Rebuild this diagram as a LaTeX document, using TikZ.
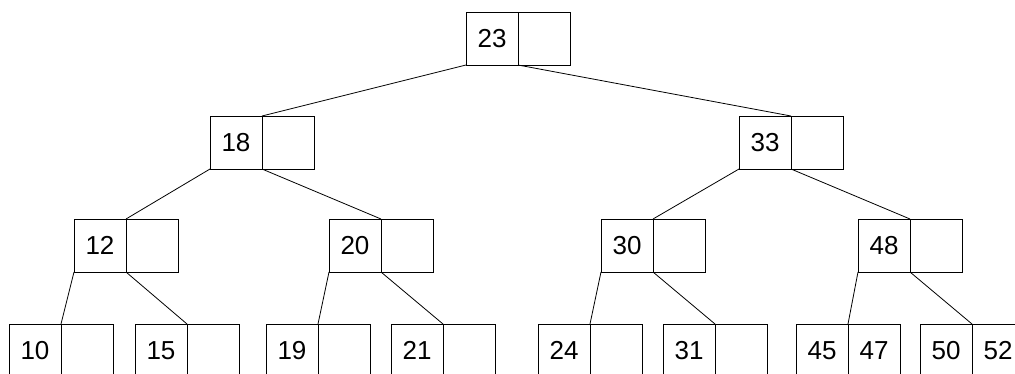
\documentclass[tikz,border=0pt]{standalone}
\usepackage{fontspec}
\setmainfont{Liberation Sans}
\begin{document}
\begin{tikzpicture}[x=1pt,y=-1pt,
  cell/.style={draw,line width=0.9pt,minimum width=52pt,minimum height=53pt,
    inner sep=0pt,outer sep=0pt,anchor=north west,font=\fontsize{26}{30}\selectfont},
  link/.style={line width=0.8pt}]
  \useasboundingbox (0,0) rectangle (1015,373);
  % Root
  \node[cell] (n23) at (466,12) {23};
  \node[cell] (n23p) at (n23.north east) {};
  % Second level
  \node[cell] (n18) at (210,116) {18};
  \node[cell] (n18p) at (n18.north east) {};
  \node[cell] (n33) at (739,116) {33};
  \node[cell] (n33p) at (n33.north east) {};
  % Third level
  \node[cell] (n12) at (74,219) {12};
  \node[cell] (n12p) at (n12.north east) {};
  \node[cell] (n20) at (329,219) {20};
  \node[cell] (n20p) at (n20.north east) {};
  \node[cell] (n30) at (601,219) {30};
  \node[cell] (n30p) at (n30.north east) {};
  \node[cell] (n48) at (858,219) {48};
  \node[cell] (n48p) at (n48.north east) {};
  % Leaves
  \node[cell] (n10) at (9,324) {10};
  \node[cell] (n10p) at (n10.north east) {};
  \node[cell] (n15) at (135,324) {15};
  \node[cell] (n15p) at (n15.north east) {};
  \node[cell] (n19) at (266,324) {19};
  \node[cell] (n19p) at (n19.north east) {};
  \node[cell] (n21) at (391,324) {21};
  \node[cell] (n21p) at (n21.north east) {};
  \node[cell] (n24) at (538,324) {24};
  \node[cell] (n24p) at (n24.north east) {};
  \node[cell] (n31) at (663,324) {31};
  \node[cell] (n31p) at (n31.north east) {};
  \node[cell] (n45) at (796,324) {45};
  \node[cell] (n47) at (n45.north east) {47};
  \node[cell] (n50) at (920,324) {50};
  \node[cell] (n52) at (n50.north east) {52};
  % Links
  \draw[link] (n23.south west) -- (n18.north east);
  \draw[link] (n23.south east) -- (n33.north east);
  \draw[link] (n18.south west) -- (n12.north east);
  \draw[link] (n18.south east) -- (n20.north east);
  \draw[link] (n33.south west) -- (n30.north east);
  \draw[link] (n33.south east) -- (n48.north east);
  \draw[link] (n12.south west) -- (n10.north east);
  \draw[link] (n12.south east) -- (n15.north east);
  \draw[link] (n20.south west) -- (n19.north east);
  \draw[link] (n20.south east) -- (n21.north east);
  \draw[link] (n30.south west) -- (n24.north east);
  \draw[link] (n30.south east) -- (n31.north east);
  \draw[link] (n48.south west) -- (n45.north east);
  \draw[link] (n48.south east) -- (n50.north east);
\end{tikzpicture}
\end{document}
